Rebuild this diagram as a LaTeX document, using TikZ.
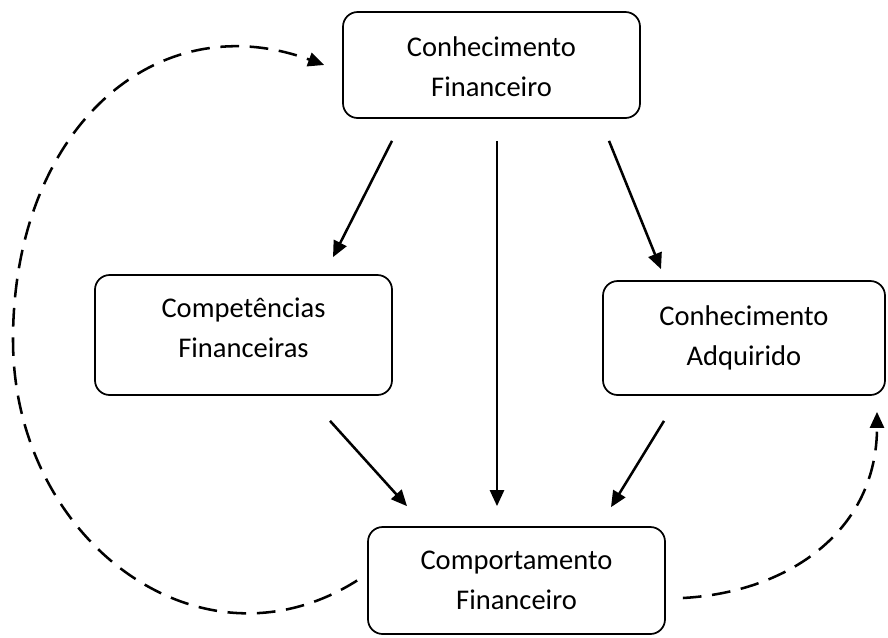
\documentclass[tikz,border=0pt]{standalone}
\usepackage{fontspec}
\setmainfont{Carlito}
\usetikzlibrary{arrows.meta,calc}
\tikzset{
  txt/.style={align=center, inner sep=0pt, font=\fontsize{21.4}{30}\selectfont},
  box/.style={txt, draw, line width=1.3pt, rounded corners=11pt},
  arr/.style={line width=1.9pt, -{Triangle[length=12pt,width=10.5pt]}},
  darr/.style={arr, dash pattern=on 14pt off 8pt},
}
\begin{document}
\begin{tikzpicture}[x=0.75pt,y=-0.75pt]
\useasboundingbox (0,0) rectangle (888,637);
\node[box, minimum width=297*0.75pt, minimum height=106*0.75pt] (top) at (491.5,65) {};
\node[txt] (toptext) at (491.5,66.5) {Conhecimento\\Financeiro};
\node[box, minimum width=297*0.75pt, minimum height=120*0.75pt] (left) at (243.5,335) {};
\node[txt] (lefttext) at (243.5,328) {Competências\\Financeiras};
\node[box, minimum width=282*0.75pt, minimum height=114*0.75pt] (right) at (744,338) {Conhecimento\\Adquirido};
\node[box, minimum width=297*0.75pt, minimum height=107*0.75pt] (bot) at (516.5,580.5) {Comportamento\\Financeiro};

\draw[arr] ($(top.south)+(-99.5,22)$) -- ($(left.north)+(89.5,-17)$);
\draw[arr] ($(top.south)+(5.5,22)$) -- ($(bot.north)+(-19.5,-20)$);
\draw[arr] ($(top.south)+(117.5,22)$) -- ($(right.north)+(-83,-11)$);
\draw[arr] ($(left.south)+(86.5,25)$) -- ($(bot.north)+(-109.5,-20)$);
\draw[arr] ($(right.south)+(-80,25)$) -- ($(bot.north)+(94.5,-19)$);

\draw[darr] ($(bot.west)+(-10,0)$) .. controls (200,680) and (13,540) .. (13,340)
  .. controls (13,130) and (155,3) .. ($(top.west)+(-18,0)$);
\draw[darr] ($(bot.east)+(17,17.5)$) .. controls (790,592) and (877,530) .. ($(right.south)+(133,16)$);
\end{tikzpicture}
\end{document}
